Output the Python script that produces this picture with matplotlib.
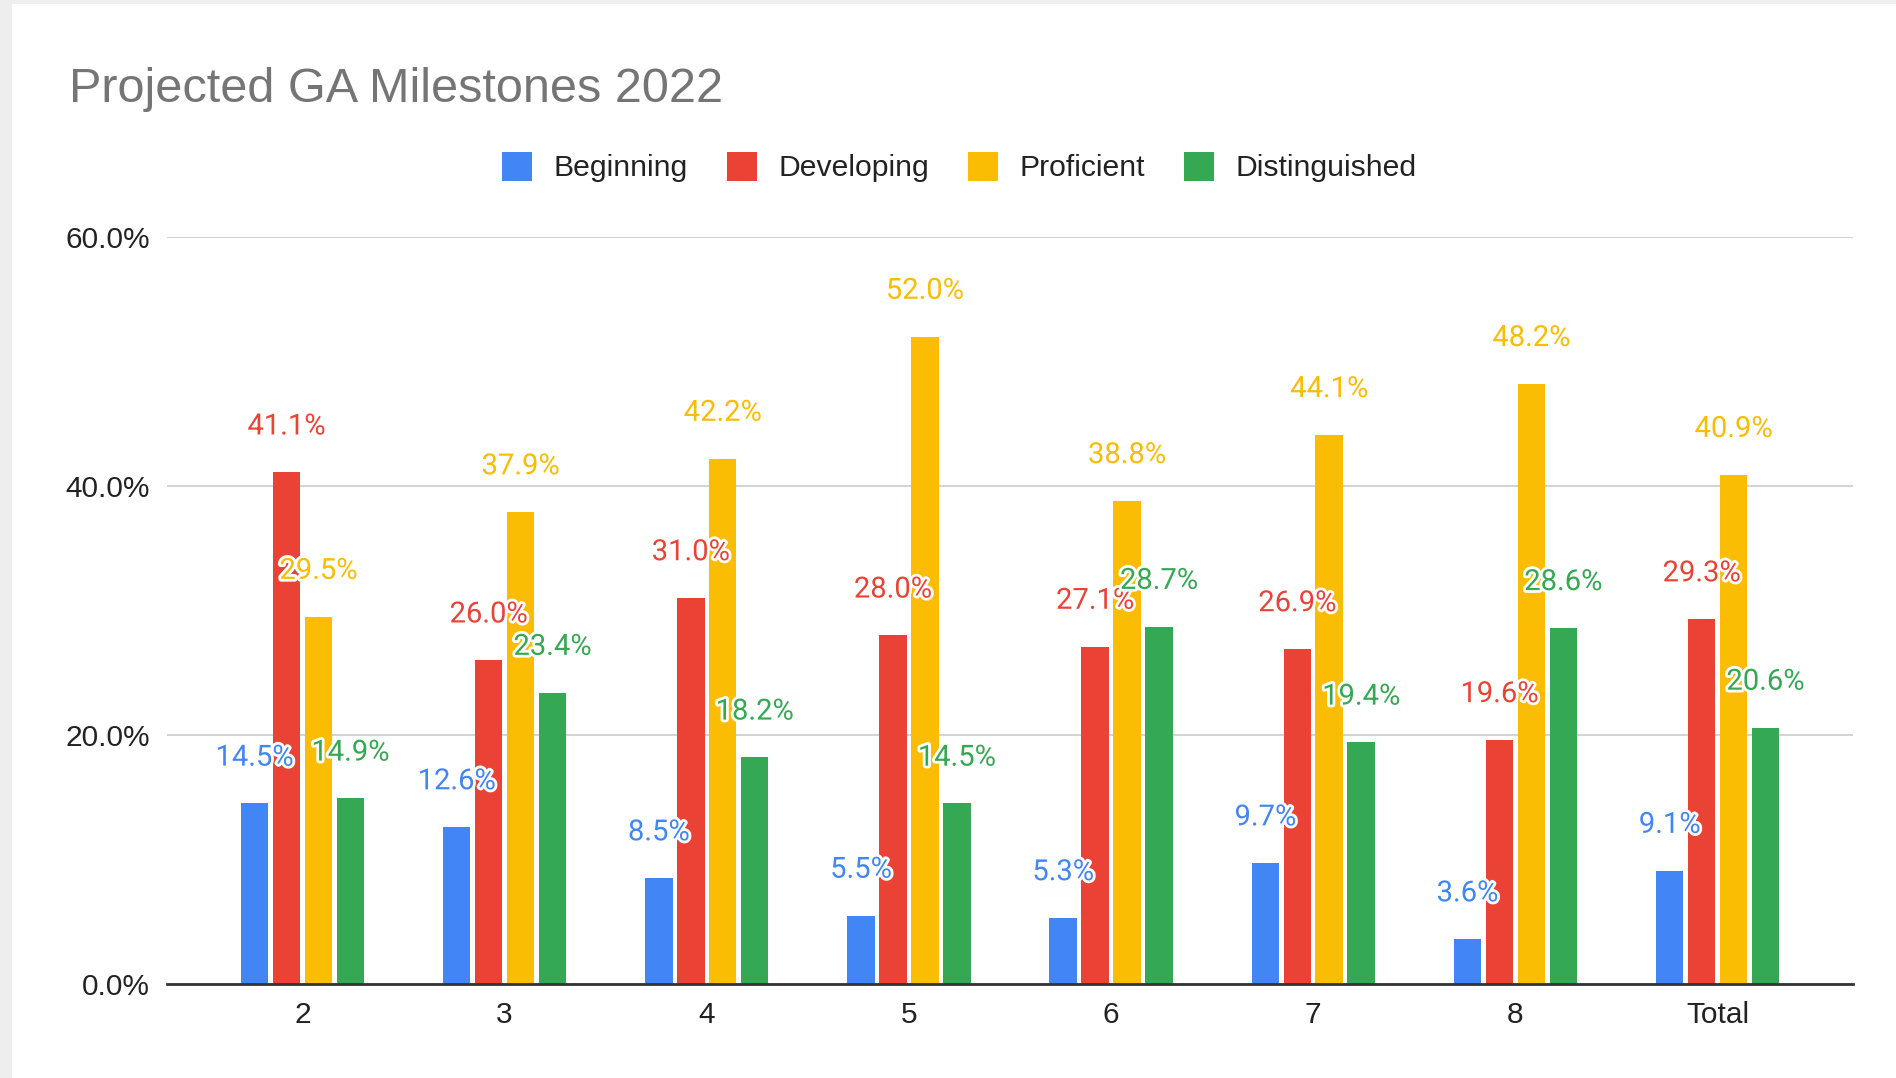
import numpy as np
import matplotlib.pyplot as plt
import matplotlib.patheffects as pe
from matplotlib.patches import Rectangle

# grade levels along the x axis
grades = ['2', '3', '4', '5', '6', '7', '8', 'Total']

# percent of students at each milestone level
beginning = [14.5, 12.6, 8.5, 5.5, 5.3, 9.7, 3.6, 9.1]
developing = [41.1, 26.0, 31.0, 28.0, 27.1, 26.9, 19.6, 29.3]
proficient = [29.5, 37.9, 42.2, 52.0, 38.8, 44.1, 48.2, 40.9]
distinguished = [14.9, 23.4, 18.2, 14.5, 28.7, 19.4, 28.6, 20.6]

series_names = ['Beginning', 'Developing', 'Proficient', 'Distinguished']
series_vals = [beginning, developing, proficient, distinguished]
colors = ['#4285F4', '#EA4335', '#FBBC04', '#34A853']

y_ticks = [0, 20, 40, 60]

fig = plt.figure(figsize=(18.96, 10.78), dpi=100)
fig.patch.set_facecolor('#eeeeee')
# white card inside the grey frame
fig.patches.append(Rectangle((12 / 1896, 0), 1 - 12 / 1896, 1 - 4 / 1078,
                             transform=fig.transFigure, facecolor='white',
                             edgecolor='none', zorder=-5))

ax = fig.add_axes([167 / 1896, 94 / 1078, (1853 - 167) / 1896, (984 - 237) / 1078])
ax.set_facecolor('white')

x = np.arange(len(grades))
step = 0.158
width = 0.136

for i, (name, vals, col) in enumerate(zip(series_names, series_vals, colors)):
    xs = x + (i - 1.5) * step
    ax.bar(xs, vals, width=width, color=col, label=name, zorder=3)
    for xv, v in zip(xs, vals):
        ax.annotate(f'{v:.1f}%', (xv, v), xytext=(0, 33), textcoords='offset points',
                    ha='center', va='center', fontsize=21, color=col,
                    family=['Roboto', 'DejaVu Sans'], zorder=5,
                    path_effects=[pe.withStroke(linewidth=4, foreground='white')])

ax.set_xlim(-0.67, 7.67)
ax.set_ylim(0, 60)
ax.set_yticks(y_ticks)
ax.set_yticklabels([f'{t:.1f}%' for t in y_ticks])
ax.set_xticks(x)
ax.set_xticklabels(grades)
ax.tick_params(axis='both', length=0, labelsize=21.5, labelcolor='#222222',
               labelfontfamily='Liberation Sans')
ax.tick_params(axis='x', pad=12)
ax.tick_params(axis='y', pad=12)
ax.grid(axis='y', color='#cccccc', linewidth=1.2, zorder=0)
ax.set_axisbelow(True)
for s in ['top', 'right', 'left']:
    ax.spines[s].set_visible(False)
ax.spines['bottom'].set_color('#333333')
ax.spines['bottom'].set_linewidth(2)
ax.spines['bottom'].set_zorder(4)

fig.text(69 / 1896, 0.917, 'Projected GA Milestones 2022', fontsize=35,
         color='#757575', family='Liberation Sans', ha='left', va='center')

fig.legend(loc='center', bbox_to_anchor=(0.506, 0.845), ncol=4, frameon=False,
           prop={'family': 'Liberation Sans', 'size': 21.7}, labelcolor='#222222',
           handlelength=1.0, handleheight=1.1, handletextpad=0.7, columnspacing=1.3)

plt.savefig('out.png', dpi=100, facecolor=fig.get_facecolor())
